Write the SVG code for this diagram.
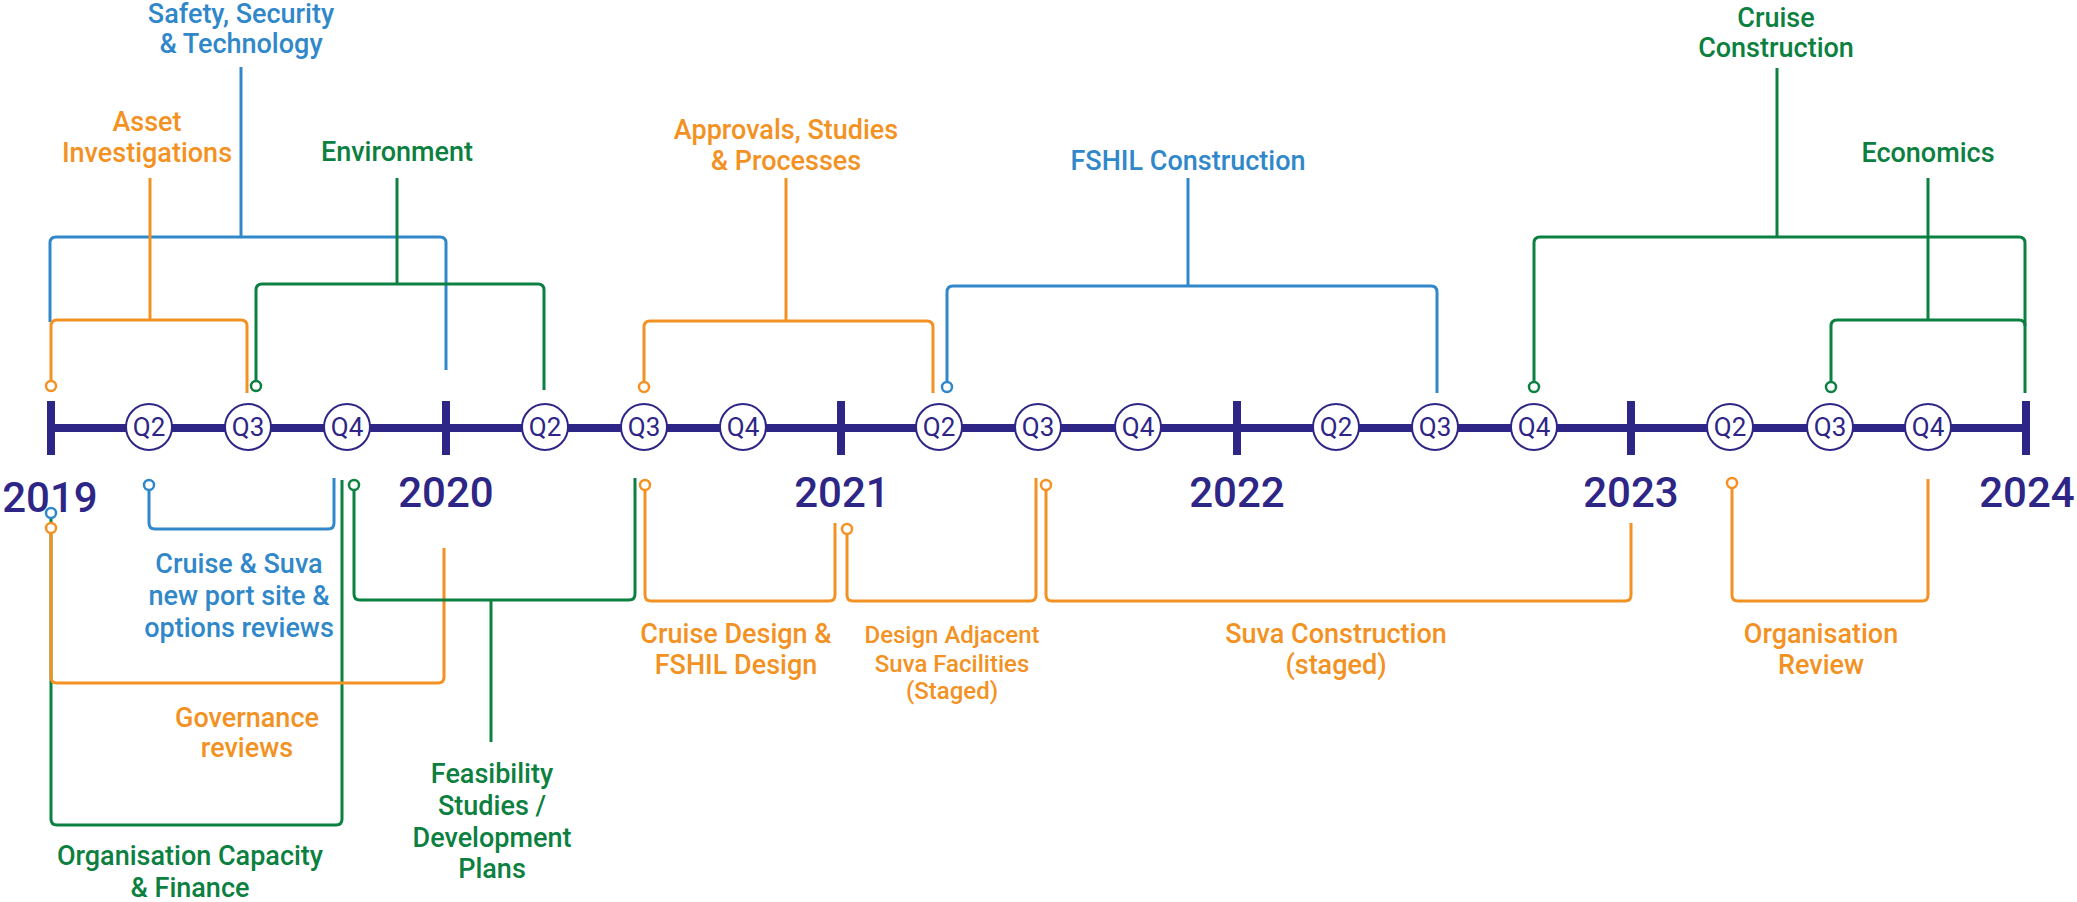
<svg xmlns="http://www.w3.org/2000/svg" width="2077" height="902" viewBox="0 0 2077 902">
  <style>
    .bg { fill: #ffffff; }
    .axis { stroke: #2e2686; stroke-width: 8; fill: none; }
    .tick { stroke: #2e2686; stroke-width: 8; }
    .qc { fill: #ffffff; stroke: #2e2686; stroke-width: 2; }
    .qt { font-family: Roboto, "Liberation Sans", sans-serif; font-size: 26px; fill: #2e2686; text-anchor: middle; }
    .yr { font-family: Roboto, "Liberation Sans", sans-serif; font-size: 42px; font-weight: 500; fill: #2e2686; text-anchor: middle; }
    .lbl { font-family: Roboto, "Liberation Sans", sans-serif; font-size: 27px; font-weight: 500; text-anchor: middle; }
    .sm { font-size: 24px; }
    .ln { fill: none; stroke-width: 3; stroke-linecap: butt; stroke-linejoin: round; }
    .dot { fill: #ffffff; stroke-width: 2.5; }
    .o { stroke: #f39223; }
    .b { stroke: #3088ca; }
    .g { stroke: #0b8040; }
    .to { fill: #f39223; }
    .tb { fill: #3088ca; }
    .tg { fill: #0b8040; }
  </style>
  <rect class="bg" x="0" y="0" width="2077" height="902"/>

  <!-- connectors: brackets linking each workstream to its span on the timeline -->
  <g id="connectors">
    <!-- Safety, Security & Technology -->
    <path class="ln b" d="M241,67 V237"/>
    <path class="ln b" d="M50,322 V243 Q50,237 56,237 H440 Q446,237 446,243 V370"/>
    <!-- Asset Investigations -->
    <path class="ln o" d="M150,178 V320"/>
    <path class="ln o" d="M51,381 V326 Q51,320 57,320 H241 Q247,320 247,326 V393"/>
    <circle class="dot o" cx="51" cy="386" r="5"/>
    <!-- Environment -->
    <path class="ln g" d="M397,178 V284"/>
    <path class="ln g" d="M256,381 V290 Q256,284 262,284 H538 Q544,284 544,290 V390"/>
    <circle class="dot g" cx="256" cy="386" r="5"/>
    <!-- Approvals, Studies & Processes -->
    <path class="ln o" d="M786,178 V321"/>
    <path class="ln o" d="M644,382 V327 Q644,321 650,321 H927 Q933,321 933,327 V393"/>
    <circle class="dot o" cx="644" cy="387" r="5"/>
    <!-- FSHIL Construction -->
    <path class="ln b" d="M1188,178 V286"/>
    <path class="ln b" d="M947,382 V292 Q947,286 953,286 H1431 Q1437,286 1437,292 V393"/>
    <circle class="dot b" cx="947" cy="387" r="5"/>
    <!-- Cruise Construction -->
    <path class="ln g" d="M1777,68 V237"/>
    <path class="ln g" d="M1534,382 V243 Q1534,237 1540,237 H2019 Q2025,237 2025,243 V393"/>
    <circle class="dot g" cx="1534" cy="387" r="5"/>
    <!-- Economics -->
    <path class="ln g" d="M1928,178 V320"/>
    <path class="ln g" d="M1831,382 V326 Q1831,320 1837,320 H2019 Q2025,320 2025,326"/>
    <circle class="dot g" cx="1831" cy="387" r="5"/>

    <!-- Organisation Capacity & Finance -->
    <path class="ln g" d="M51,518 V819 Q51,825 57,825 H336 Q342,825 342,819 V480"/>
    <circle class="dot b" cx="51" cy="513" r="5"/>
    <!-- Governance reviews -->
    <path class="ln o" d="M51,533 V677 Q51,683 57,683 H438 Q444,683 444,677 V548"/>
    <circle class="dot o" cx="51" cy="528" r="5"/>
    <!-- Cruise & Suva new port site & options reviews -->
    <path class="ln b" d="M149,490 V523 Q149,529 155,529 H328 Q334,529 334,523 V478"/>
    <circle class="dot b" cx="149" cy="485" r="5"/>
    <!-- Feasibility Studies / Development Plans -->
    <path class="ln g" d="M354,490 V594 Q354,600 360,600 H629 Q635,600 635,594 V478"/>
    <path class="ln g" d="M491,600 V742"/>
    <circle class="dot g" cx="354" cy="485" r="5"/>
    <!-- Cruise Design & FSHIL Design -->
    <path class="ln o" d="M645,490 V595 Q645,601 651,601 H829 Q835,601 835,595 V523"/>
    <circle class="dot o" cx="645" cy="485" r="5"/>
    <!-- Design Adjacent Suva Facilities -->
    <path class="ln o" d="M847,534 V595 Q847,601 853,601 H1030 Q1036,601 1036,595 V478"/>
    <circle class="dot o" cx="847" cy="529" r="5"/>
    <!-- Suva Construction -->
    <path class="ln o" d="M1046,490 V595 Q1046,601 1052,601 H1625 Q1631,601 1631,595 V523"/>
    <circle class="dot o" cx="1046" cy="485" r="5"/>
    <!-- Organisation Review -->
    <path class="ln o" d="M1732,488 V595 Q1732,601 1738,601 H1922 Q1928,601 1928,595 V479"/>
    <circle class="dot o" cx="1732" cy="483" r="5"/>
  </g>

  <!-- timeline axis -->
  <g id="timeline">
    <line class="axis" x1="51" y1="428" x2="2026" y2="428"/>
    <line class="tick" x1="51" y1="401" x2="51" y2="455"/>
    <line class="tick" x1="446" y1="401" x2="446" y2="455"/>
    <line class="tick" x1="841" y1="401" x2="841" y2="455"/>
    <line class="tick" x1="1237" y1="401" x2="1237" y2="455"/>
    <line class="tick" x1="1631" y1="401" x2="1631" y2="455"/>
    <line class="tick" x1="2026" y1="401" x2="2026" y2="455"/>
    <text class="yr" x="50" y="512">2019</text>
    <text class="yr" x="446" y="507">2020</text>
    <text class="yr" x="842" y="507">2021</text>
    <text class="yr" x="1237" y="507">2022</text>
    <text class="yr" x="1631" y="507">2023</text>
    <text class="yr" x="2027" y="507">2024</text>
  </g>

  <!-- quarter markers -->
  <g id="quarters">
    <g id="q-2019-2"><circle class="qc" cx="149" cy="427" r="23"/><text class="qt" x="149" y="436">Q2</text></g>
    <g id="q-2019-3"><circle class="qc" cx="248" cy="427" r="23"/><text class="qt" x="248" y="436">Q3</text></g>
    <g id="q-2019-4"><circle class="qc" cx="347" cy="427" r="23"/><text class="qt" x="347" y="436">Q4</text></g>
    <g id="q-2020-2"><circle class="qc" cx="545" cy="427" r="23"/><text class="qt" x="545" y="436">Q2</text></g>
    <g id="q-2020-3"><circle class="qc" cx="644" cy="427" r="23"/><text class="qt" x="644" y="436">Q3</text></g>
    <g id="q-2020-4"><circle class="qc" cx="743" cy="427" r="23"/><text class="qt" x="743" y="436">Q4</text></g>
    <g id="q-2021-2"><circle class="qc" cx="939" cy="427" r="23"/><text class="qt" x="939" y="436">Q2</text></g>
    <g id="q-2021-3"><circle class="qc" cx="1038" cy="427" r="23"/><text class="qt" x="1038" y="436">Q3</text></g>
    <g id="q-2021-4"><circle class="qc" cx="1138" cy="427" r="23"/><text class="qt" x="1138" y="436">Q4</text></g>
    <g id="q-2022-2"><circle class="qc" cx="1336" cy="427" r="23"/><text class="qt" x="1336" y="436">Q2</text></g>
    <g id="q-2022-3"><circle class="qc" cx="1435" cy="427" r="23"/><text class="qt" x="1435" y="436">Q3</text></g>
    <g id="q-2022-4"><circle class="qc" cx="1534" cy="427" r="23"/><text class="qt" x="1534" y="436">Q4</text></g>
    <g id="q-2023-2"><circle class="qc" cx="1730" cy="427" r="23"/><text class="qt" x="1730" y="436">Q2</text></g>
    <g id="q-2023-3"><circle class="qc" cx="1830" cy="427" r="23"/><text class="qt" x="1830" y="436">Q3</text></g>
    <g id="q-2023-4"><circle class="qc" cx="1928" cy="427" r="23"/><text class="qt" x="1928" y="436">Q4</text></g>
  </g>

  <!-- workstream labels above the axis -->
  <g id="safety"><text class="lbl tb" x="241" y="23">Safety, Security</text><text class="lbl tb" x="241" y="53">&amp; Technology</text></g>
  <g id="asset"><text class="lbl to" x="147" y="131">Asset</text><text class="lbl to" x="147" y="162">Investigations</text></g>
  <g id="environment"><text class="lbl tg" x="397" y="161">Environment</text></g>
  <g id="approvals"><text class="lbl to" x="786" y="139">Approvals, Studies</text><text class="lbl to" x="786" y="170">&amp; Processes</text></g>
  <g id="fshil-construction"><text class="lbl tb" x="1188" y="170">FSHIL Construction</text></g>
  <g id="cruise-construction"><text class="lbl tg" x="1776" y="27">Cruise</text><text class="lbl tg" x="1776" y="57">Construction</text></g>
  <g id="economics"><text class="lbl tg" x="1928" y="162">Economics</text></g>

  <!-- workstream labels below the axis -->
  <g id="port-site-reviews"><text class="lbl tb" x="239" y="573">Cruise &amp; Suva</text><text class="lbl tb" x="239" y="605">new port site &amp;</text><text class="lbl tb" x="239" y="637">options reviews</text></g>
  <g id="governance"><text class="lbl to" x="247" y="727">Governance</text><text class="lbl to" x="247" y="757">reviews</text></g>
  <g id="org-capacity"><text class="lbl tg" x="190" y="865">Organisation Capacity</text><text class="lbl tg" x="190" y="897">&amp; Finance</text></g>
  <g id="feasibility"><text class="lbl tg" x="492" y="783">Feasibility</text><text class="lbl tg" x="492" y="815">Studies /</text><text class="lbl tg" x="492" y="847">Development</text><text class="lbl tg" x="492" y="878">Plans</text></g>
  <g id="cruise-design"><text class="lbl to" x="736" y="643">Cruise Design &amp;</text><text class="lbl to" x="736" y="674">FSHIL Design</text></g>
  <g id="design-adjacent"><text class="lbl sm to" x="952" y="643">Design Adjacent</text><text class="lbl sm to" x="952" y="672">Suva Facilities</text><text class="lbl sm to" x="952" y="699">(Staged)</text></g>
  <g id="suva-construction"><text class="lbl to" x="1336" y="643">Suva Construction</text><text class="lbl to" x="1336" y="674">(staged)</text></g>
  <g id="org-review"><text class="lbl to" x="1821" y="643">Organisation</text><text class="lbl to" x="1821" y="674">Review</text></g>
</svg>
